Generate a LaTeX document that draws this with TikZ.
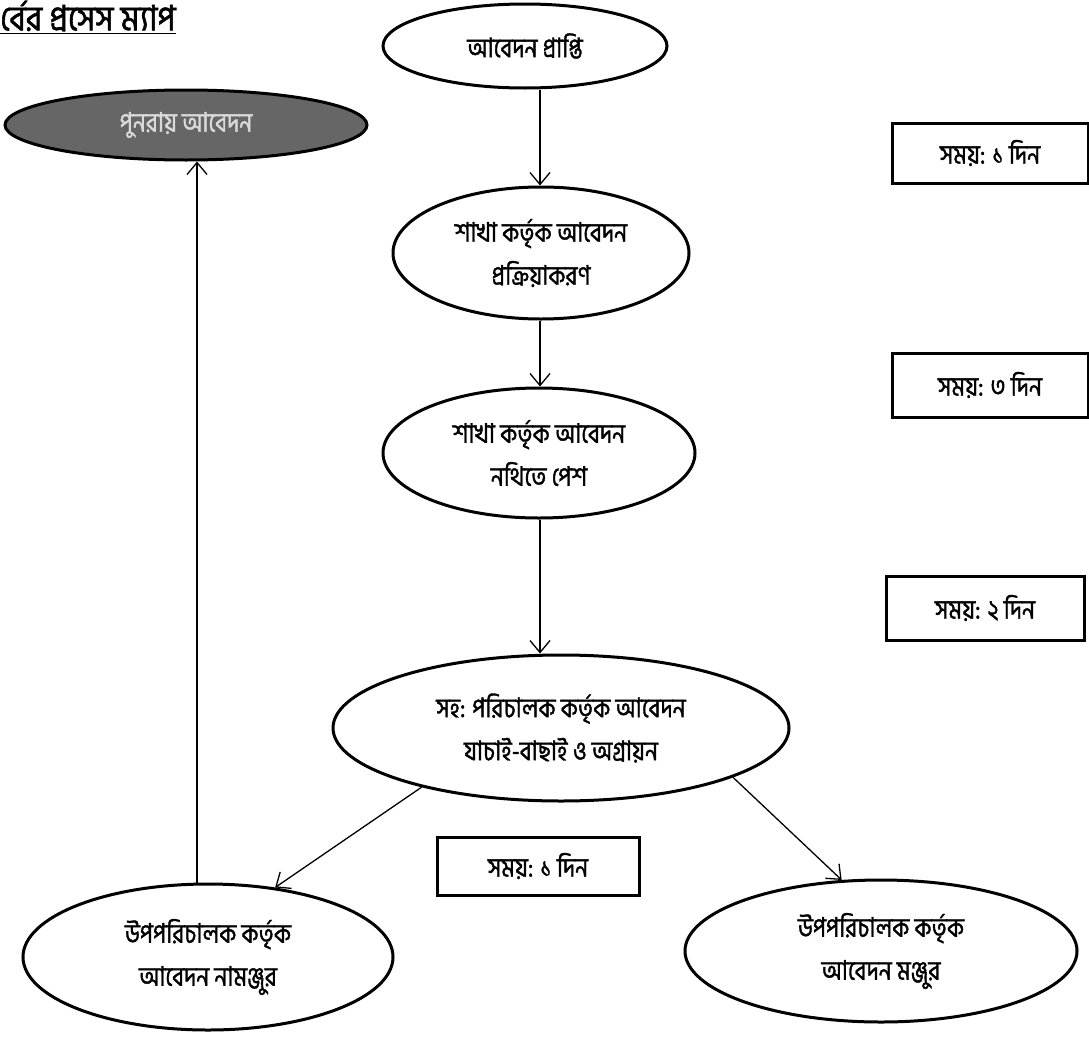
\documentclass[tikz,border=0pt]{standalone}
\usepackage{fontspec}
\newfontfamily\bn[Script=Bengali,FakeBold=1.3,FakeStretch=0.85]{Hind Siliguri}
\newfontfamily\bnt[Script=Bengali,FakeBold=1.6,FakeStretch=0.9]{Hind Siliguri}
\usetikzlibrary{shapes.geometric,arrows.meta}
\begin{document}
\begin{tikzpicture}[x=1pt,y=-1pt,
  ell/.style={ellipse,draw=black,line width=3pt,inner sep=0pt,align=center,
    font=\bn\fontsize{27}{43}\selectfont},
  tbox/.style={rectangle,draw=black,line width=3pt,inner sep=0pt,
    font=\bn\fontsize{27}{30}\selectfont},
  arr/.style={line width=1.3pt,-{Straight Barb[length=12pt,width=20pt,line width=1.3pt]}}]
\useasboundingbox (0,0) rectangle (1089,1036);
% title
\node[anchor=west,font=\bnt\fontsize{35}{38}\selectfont,inner sep=0pt] (title) at (0,16) {র্বের প্রসেস ম্যাপ};
\draw[line width=1.8pt] (title.south west) ++(0,2) coordinate (ul1) -- (ul1 -| title.south east);
% nodes
\node[ell,minimum width=284pt,minimum height=84pt] (e1) at (525,46) {আবেদন প্রাপ্তি};
\node[ell,minimum width=362pt,minimum height=70pt,fill=black!60,text=black!15] (pe) at (186,125) {পুনরায় আবেদন};
\node[ell,minimum width=296pt,minimum height=132pt] (e2) at (541,253) {শাখা কর্তৃক আবেদন\\প্রক্রিয়াকরণ};
\node[ell,minimum width=312pt,minimum height=130pt] (e3) at (539,453) {শাখা কর্তৃক আবেদন\\নথিতে পেশ};
\node[ell,minimum width=456pt,minimum height=146pt] (e4) at (561,728) {সহ: পরিচালক কর্তৃক আবেদন\\যাচাই-বাছাই ও অগ্রায়ন};
\node[ell,minimum width=370pt,minimum height=146pt] (e5) at (208,957) {উপপরিচালক কর্তৃক\\আবেদন নামঞ্জুর};
\node[ell,minimum width=392pt,minimum height=142pt] (e6) at (881,951) {উপপরিচালক কর্তৃক\\আবেদন মঞ্জুর};
\node[tbox,minimum width=196pt,minimum height=60pt] (b1) at (990,153) {সময়: ১ দিন};
\node[tbox,minimum width=196pt,minimum height=64pt] (b2) at (990,385) {সময়: ৩ দিন};
\node[tbox,minimum width=198pt,minimum height=64pt] (b3) at (985,608) {সময়: ২ দিন};
\node[tbox,minimum width=202pt,minimum height=58pt] (b4) at (538,866) {সময়: ১ দিন};
% connectors
\coordinate (vx) at (540,0);
\coordinate (vl) at (197,0);
\draw[arr] (e1.south -| vx) -- (e2.north -| vx);
\draw[arr] (e2.south -| vx) -- (e3.north -| vx);
\draw[arr] (e3.south -| vx) -- (e4.north -| vx);
\draw[arr] (e4.203) -- (e5.46);
\draw[arr] (e4.344) -- (e6.119);
\draw[arr] (e5.north -| vl) -- (pe.south -| vl);
\end{tikzpicture}
\end{document}
